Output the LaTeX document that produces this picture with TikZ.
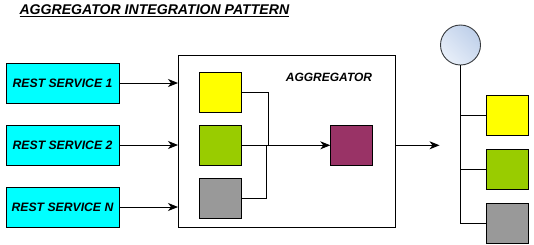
\documentclass[tikz,border=0pt]{standalone}
\usepackage{fontspec}
\setmainfont{Liberation Sans}
\usetikzlibrary{arrows.meta,positioning}
\definecolor{svccyan}{HTML}{00FFFF}
\definecolor{boxyellow}{HTML}{FFFF00}
\definecolor{boxgreen}{HTML}{99CC00}
\definecolor{boxgray}{HTML}{999999}
\definecolor{boxplum}{HTML}{993366}
\definecolor{dbtop}{HTML}{E8EFF9}
\definecolor{dbbottom}{HTML}{BFD0EA}
\definecolor{dbline}{HTML}{36393D}
\tikzset{
  x=1pt, y=-1pt,
  every node/.style={inner sep=0pt, outer sep=0pt},
  svcbox/.style={draw=black, line width=0.9pt, fill=svccyan,
    minimum width=113pt, minimum height=40pt,
    font=\fontsize{12.2}{14}\selectfont\bfseries\itshape},
  cell/.style={draw=black, line width=0.9pt,
    minimum width=42pt, minimum height=40pt},
  wire/.style={draw=black, line width=0.9pt},
  flow/.style={wire, -{Stealth[length=10pt, width=8pt, inset=3pt]}},
  caption/.style={font=\fontsize{12}{14}\selectfont\bfseries\itshape}
}
\begin{document}
\begin{tikzpicture}
\useasboundingbox (0,0) rectangle (534,244);
\fill[white] (0,0) rectangle (534,244);

% heading
\node[font=\fontsize{14.1}{16}\selectfont\bfseries\itshape, anchor=base west]
  (title) at (19.5,14.5) {\underline{AGGREGATOR INTEGRATION PATTERN}};

% REST services on the left
\node[svcbox] (s1) at (62.5,83) {REST SERVICE 1};
\node[svcbox] (s2) at (62.5,145) {REST SERVICE 2};
\node[svcbox] (sn) at (62.5,207) {REST SERVICE N};

% aggregator frame
\node[draw=black, line width=0.9pt, minimum width=217pt, minimum height=172pt]
  (agg) at (286.5,141) {};
\node[caption] (aggl) at (329,77) {AGGREGATOR};

% partial results inside the aggregator
\node[cell, fill=boxyellow] (a1) at (220.3,92.3) {};
\node[cell, fill=boxgreen]  (a2) at (220.3,145.3) {};
\node[cell, fill=boxgray]   (a3) at (220.3,198.3) {};
\node[cell, fill=boxplum]   (res) at (351.3,145.3) {};

\coordinate (j1) at (268.3,145.3);
\coordinate (j3) at (266.3,145.3);

% service calls
\draw[flow] (s1.east) -- (s1.east -| agg.west);
\draw[flow] (s2.east) -- (s2.east -| agg.west);
\draw[flow] (sn.east) -- (sn.east -| agg.west);

% merging the partial results
\draw[wire] (a1.east) -| (j1);
\draw[wire] (a3.east) -| (j3);
\draw[flow] (a2.east) -- (res.west);

% aggregated response leaving the frame
\coordinate (out) at (439.5,145.3);
\draw[flow] (agg.east |- res.east) -- (out);

% combined data store on the right
\node[circle, draw=dbline, line width=0.9pt, minimum size=40pt,
  shading=axis, left color=dbtop, right color=dbbottom, shading angle=135]
  (db) at (460.5,45) {};
\node[cell, fill=boxyellow] (b1) at (507.5,115.3) {};
\node[cell, fill=boxgreen]  (b2) at (507.5,169.3) {};
\node[cell, fill=boxgray]   (b3) at (507.5,223.3) {};

\coordinate (t3) at (460.5,223.3);
\draw[wire] (db.south) -- (t3) -- (b3.west);
\draw[wire] (b1.west) -- (b1.west -| db.south);
\draw[wire] (b2.west) -- (b2.west -| db.south);
\end{tikzpicture}
\end{document}
